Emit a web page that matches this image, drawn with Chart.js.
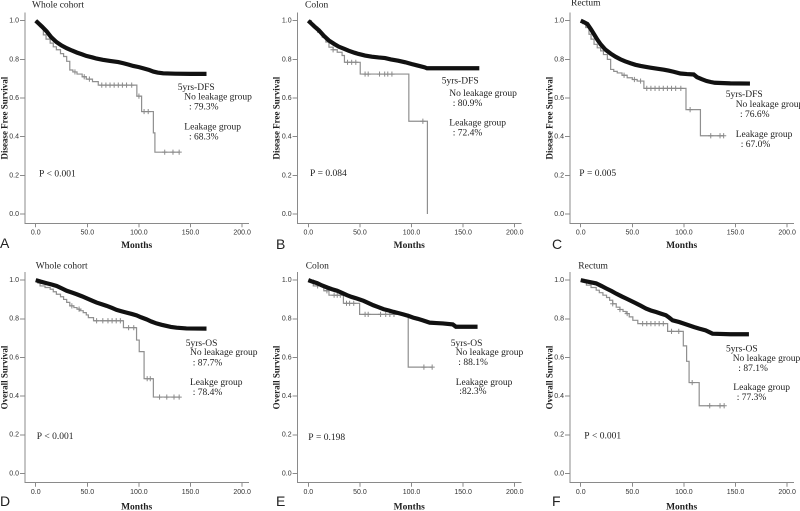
<!DOCTYPE html>
<html>
<head>
<meta charset="utf-8">
<script src="https://cdn.jsdelivr.net/npm/chart.js@4.4.1/dist/chart.umd.min.js"></script>
<style>
  html, body { margin: 0; padding: 0; background: #fff; }
  #wrap { position: relative; width: 800px; height: 511px; overflow: hidden; }
  canvas { position: absolute; }
</style>
</head>
<body>
<div id="wrap"></div>
<script>
// Kaplan-Meier curves: [months, survival]

const xTicks = [0, 50, 100, 150, 200];
const yTicks = [0, 0.2, 0.4, 0.6, 0.8, 1.0];

// A - DFS, whole cohort
const dfsWholeNo = [[0,1],[3,0.985],[6,0.97],[10.6,0.945],[15,0.915],[20,0.89],[25,0.872],[30,0.858],[35,0.846],[40,0.835],[45,0.826],[49,0.818],[55,0.81],[59,0.804],[65,0.798],[72,0.792],[80,0.786],[85,0.78],[90,0.773],[94.5,0.766],[100,0.76],[104,0.754],[110,0.745],[114,0.737],[118,0.732],[123.5,0.728],[135,0.726],[150,0.725],[165.5,0.725]];
const dfsWholeLeak = [[0,1],[2,0.985],[4,0.97],[7.4,0.927],[10,0.905],[14,0.884],[17,0.865],[20,0.85],[24,0.83],[27,0.815],[30,0.79],[33,0.745],[36,0.735],[40,0.724],[45,0.71],[49,0.698],[55,0.685],[60.6,0.667],[98,0.61],[102.6,0.53],[114,0.42],[115.5,0.32],[139,0.32]];
const dfsWholeCens = [[38,0.735],[47,0.71],[52,0.698],[64,0.667],[68,0.667],[72,0.667],[76,0.667],[80,0.667],[84,0.667],[88,0.667],[93,0.667],[100,0.61],[105,0.53],[109,0.53],[125,0.32],[133,0.32],[139,0.32]];

// B - DFS, colon
const dfsColonNo = [[0,1],[3,0.985],[6,0.97],[10.3,0.95],[15,0.922],[19.9,0.898],[25,0.88],[29.5,0.866],[35,0.854],[39,0.845],[45,0.834],[48.7,0.828],[55,0.82],[61.5,0.814],[68,0.81],[74.4,0.807],[80,0.8],[87,0.793],[94,0.785],[100,0.776],[106,0.768],[112.8,0.759],[115,0.754],[140,0.754],[165.7,0.754]];
const dfsColonLeak = [[0,1],[3,0.983],[5.4,0.967],[9,0.94],[13.5,0.915],[17,0.89],[20,0.863],[24,0.85],[28,0.837],[32.7,0.82],[35,0.785],[50.3,0.724],[97.4,0.48],[115.4,0.0]];
const dfsColonCens = [[24,0.85],[38,0.785],[42,0.785],[46,0.785],[55,0.724],[58,0.724],[69,0.724],[74,0.724],[77,0.724],[81,0.724],[111,0.48]];

// C - DFS, rectum
const dfsRectumNo = [[0,1],[3,0.993],[6.4,0.983],[10,0.955],[12.9,0.93],[16,0.903],[19.3,0.878],[24,0.85],[29,0.83],[34,0.813],[38.6,0.8],[43,0.79],[48.3,0.78],[53,0.772],[58,0.766],[62,0.762],[67.6,0.757],[74,0.752],[80.5,0.747],[85,0.742],[90,0.736],[96.6,0.727],[103,0.724],[109.5,0.722],[112.7,0.708],[117,0.698],[122,0.688],[126,0.683],[130,0.679],[145,0.676],[164,0.675]];
const dfsRectumLeak = [[0,1],[2,0.985],[4.8,0.965],[8,0.93],[10,0.905],[12.9,0.878],[16,0.86],[19.3,0.844],[22,0.825],[25.8,0.8],[29,0.748],[32,0.738],[35.4,0.73],[40,0.718],[45,0.705],[50,0.696],[54.7,0.688],[61.2,0.65],[102,0.54],[116,0.405],[138.5,0.405]];
const dfsRectumCens = [[42,0.718],[52,0.696],[58,0.688],[64,0.65],[68,0.65],[72,0.65],[76,0.65],[80,0.65],[84,0.65],[88,0.65],[92,0.65],[97,0.65],[106,0.54],[126,0.405],[135,0.405],[138.5,0.405]];

// D - OS, whole cohort
const osWholeNo = [[0,1],[5,0.992],[10.6,0.984],[15,0.978],[20.3,0.97],[25,0.958],[30,0.945],[35,0.936],[39.7,0.927],[45,0.916],[49.4,0.906],[55,0.893],[59,0.884],[64,0.875],[68.7,0.867],[74,0.856],[78.4,0.846],[83,0.839],[88,0.832],[93,0.825],[97.7,0.818],[102,0.808],[107.4,0.797],[112,0.786],[117,0.776],[122,0.769],[126.8,0.763],[131,0.758],[136.5,0.754],[146,0.75],[165.5,0.749]];
const osWholeLeak = [[0,1],[2,0.985],[4.2,0.97],[9,0.962],[14,0.953],[17,0.94],[20,0.927],[24,0.914],[27,0.9],[30,0.885],[33,0.867],[37,0.858],[40,0.85],[43,0.842],[46,0.832],[49,0.82],[51,0.806],[56,0.79],[85,0.754],[97.7,0.69],[100.3,0.63],[105,0.49],[114,0.395],[139,0.395]];
const osWholeCens = [[35,0.867],[42,0.85],[59,0.79],[65,0.79],[70,0.79],[74,0.79],[78,0.79],[82,0.79],[90,0.754],[95,0.754],[108,0.49],[111,0.49],[120,0.395],[127,0.395],[134,0.395],[139,0.395]];

// E - OS, colon
const osColonNo = [[0,1],[4,0.992],[8.7,0.984],[13,0.973],[18.3,0.962],[23,0.953],[27.9,0.945],[33,0.933],[37.5,0.922],[42,0.913],[47,0.905],[53.5,0.893],[58,0.882],[63,0.87],[68,0.86],[72.8,0.85],[78,0.843],[82.4,0.836],[87,0.83],[92,0.823],[97,0.815],[101.6,0.806],[106,0.8],[111,0.792],[117.6,0.78],[124,0.778],[130.4,0.776],[140,0.771],[143,0.759],[164,0.759]];
const osColonLeak = [[0,1],[4.8,0.97],[15,0.945],[20,0.922],[34,0.88],[49.7,0.823],[96.8,0.55],[120,0.55]];
const osColonCens = [[9,0.97],[18,0.945],[25,0.922],[28,0.922],[31,0.922],[37,0.88],[40,0.88],[44,0.88],[55,0.823],[58,0.823],[70,0.823],[75,0.823],[79,0.823],[83,0.823],[112,0.55],[120,0.55]];

// F - OS, rectum
const osRectumNo = [[0,1],[4,0.995],[8.7,0.99],[15,0.983],[20,0.97],[24.7,0.957],[30,0.943],[34.4,0.93],[40,0.915],[44,0.905],[49,0.892],[53.7,0.88],[58,0.868],[63.3,0.853],[68,0.843],[73,0.835],[78,0.826],[82.6,0.818],[86,0.805],[89,0.792],[95.5,0.783],[100,0.775],[105,0.766],[110,0.757],[114.8,0.749],[121,0.74],[125,0.73],[127.7,0.723],[145,0.72],[163,0.72]];
const osRectumLeak = [[0,1],[2,0.99],[5.5,0.974],[10,0.962],[15,0.948],[18,0.935],[21.5,0.922],[25,0.91],[28,0.896],[31,0.878],[34.4,0.86],[38,0.848],[41,0.838],[44,0.827],[47,0.81],[50.5,0.792],[55.3,0.775],[84.2,0.735],[99.4,0.66],[102.6,0.58],[105,0.47],[114.8,0.35],[139,0.35]];
const osRectumCens = [[31,0.878],[38,0.848],[45,0.827],[60,0.775],[64,0.775],[68,0.775],[72,0.775],[76,0.775],[80,0.775],[88,0.735],[95,0.735],[108,0.47],[125,0.35],[135,0.35],[139,0.35]];

const SERIF = '"Liberation Serif", "DejaVu Serif", serif';
const SANS = '"Liberation Sans", Arial, sans-serif';

// note positions are page pixels: [text, x, y]
const panels = [
  { letter: 'A', left: 0, top: 0, w: 272, h: 255, yAxisW: 25, padTop: 13, padRight: 23.7, xAxisH: 31.7, titlePadB: 4,
    yTitle: 'Disease Free Survival', no: dfsWholeNo, leak: dfsWholeLeak, cens: dfsWholeCens,
    heading: ['Whole cohort', 32, 5], letterPos: [0, 244], pText: ['P < 0.001', 39, 174],
    notes: [['5yrs-DFS', 177.7, 87.5], ['No leakage group', 184.3, 97], [': 79.3%', 189, 107], ['Leakage group', 184.3, 127], [': 68.3%', 189, 137]] },
  { letter: 'B', left: 272, top: 0, w: 273, h: 255, yAxisW: 25.6, padTop: 13, padRight: 24.1, xAxisH: 31.7, titlePadB: 4,
    yTitle: 'Disease Free Survival', no: dfsColonNo, leak: dfsColonLeak, cens: dfsColonCens,
    heading: ['Colon', 305, 5], letterPos: [276, 245], pText: ['P = 0.084', 310, 173.3],
    notes: [['5yrs-DFS', 441.7, 81], ['No leakage group', 449.3, 93.3], [': 80.9%', 452.7, 103.3], ['Leakage group', 449.3, 123], [': 72.4%', 452.7, 133]] },
  { letter: 'C', left: 545, top: 0, w: 255, h: 255, yAxisW: 25, padTop: 13, padRight: 6.7, xAxisH: 31.7, titlePadB: 4,
    yTitle: 'Disease Free Survival', no: dfsRectumNo, leak: dfsRectumLeak, cens: dfsRectumCens,
    heading: ['Rectum', 571, 3], letterPos: [552, 245], pText: ['P = 0.005', 579.3, 173.3],
    notes: [['5yrs-DFS', 725.7, 94.3], ['No leakage group', 735.7, 104.5], [': 76.6%', 740, 114.5], ['Leakage group', 735.7, 134.5], [': 67.0%', 740.7, 144.5]] },
  { letter: 'D', left: 0, top: 255, w: 272, h: 256, yAxisW: 25, padTop: 17.4, padRight: 23.7, xAxisH: 28.3, titlePadB: -1.5,
    yTitle: 'Overall Survival', no: osWholeNo, leak: osWholeLeak, cens: osWholeCens,
    heading: ['Whole cohort', 35.7, 266], letterPos: [0, 502], pText: ['P < 0.001', 36.7, 436.7],
    notes: [['5yrs-OS', 185.7, 343.3], ['No leakage group', 190, 352.7], [': 87.7%', 192.7, 363], ['Leakge group', 190, 382.7], [': 78.4%', 192.7, 392.7]] },
  { letter: 'E', left: 272, top: 255, w: 273, h: 256, yAxisW: 25.6, padTop: 17.4, padRight: 24.1, xAxisH: 28.3, titlePadB: -1.5,
    yTitle: 'Overall Survival', no: osColonNo, leak: osColonLeak, cens: osColonCens,
    heading: ['Colon', 305.7, 266], letterPos: [276, 502], pText: ['P = 0.198', 308.3, 437.7],
    notes: [['5yrs-OS', 450.7, 343.3], ['No leakage group', 455.7, 352.3], [': 88.1%', 458.3, 362.3], ['Leakage group', 455.7, 382.3], [':82.3%', 459.3, 391.7]] },
  { letter: 'F', left: 545, top: 255, w: 255, h: 256, yAxisW: 25, padTop: 17.4, padRight: 6.7, xAxisH: 28.3, titlePadB: -1.5,
    yTitle: 'Overall Survival', no: osRectumNo, leak: osRectumLeak, cens: osRectumCens,
    heading: ['Rectum', 578.3, 266], letterPos: [552, 502], pText: ['P < 0.001', 584.3, 436],
    notes: [['5yrs-OS', 726, 349], ['No leakage group', 732.7, 358.5], [': 87.1%', 738.3, 368.5], ['Leakage group', 733.3, 387.5], [': 77.3%', 736.7, 397.5]] }
];

function toPoints(arr) {
  return arr.map(p => ({ x: p[0], y: p[1] }));
}

// draws the panel heading, annotations and panel letter
const notesPlugin = {
  id: 'notes',
  afterDraw(chart) {
    const p = chart.options.plugins.notes.panel;
    const ctx = chart.ctx;
    ctx.save();
    ctx.textBaseline = 'middle';
    ctx.textAlign = 'left';
    ctx.fillStyle = '#222';
    ctx.font = '9.5px ' + SERIF;
    ctx.fillText(p.heading[0], p.heading[1] - p.left, p.heading[2] - p.top);
    p.notes.forEach(n => ctx.fillText(n[0], n[1] - p.left, n[2] - p.top));
    ctx.fillText(p.pText[0], p.pText[1] - p.left, p.pText[2] - p.top);
    ctx.font = '14px ' + SANS;
    ctx.fillText(p.letter, p.letterPos[0] - p.left, p.letterPos[1] - p.top);
    ctx.restore();
  }
};

function makePanel(p) {
  const canvas = document.createElement('canvas');
  canvas.width = p.w;
  canvas.height = p.h;
  canvas.style.left = p.left + 'px';
  canvas.style.top = p.top + 'px';
  canvas.style.width = p.w + 'px';
  canvas.style.height = p.h + 'px';
  document.getElementById('wrap').appendChild(canvas);

  new Chart(canvas.getContext('2d'), {
    type: 'line',
    data: {
      datasets: [
        {
          label: 'No leakage group',
          data: toPoints(p.no),
          borderColor: '#111',
          borderWidth: 4.2,
          pointRadius: 0,
          tension: 0,
          fill: false
        },
        {
          label: 'Leakage censored',
          data: toPoints(p.cens),
          showLine: false,
          pointStyle: 'cross',
          pointRadius: 2.6,
          pointBorderWidth: 1,
          pointBorderColor: '#8a8a8a',
          borderColor: '#8a8a8a'
        },
        {
          label: 'Leakage group',
          data: toPoints(p.leak),
          borderColor: '#8f8f8f',
          borderWidth: 1.2,
          stepped: true,
          pointRadius: 0,
          fill: false
        }
      ]
    },
    options: {
      responsive: false,
      animation: false,
      devicePixelRatio: 2,
      layout: { padding: { left: 0, top: p.padTop, right: p.padRight, bottom: 0 } },
      plugins: {
        legend: { display: false },
        tooltip: { enabled: false },
        notes: { panel: p }
      },
      scales: {
        x: {
          type: 'linear',
          min: -10.4,
          max: 206,
          afterBuildTicks: s => { s.ticks = xTicks.map(v => ({ value: v })); },
          afterFit: s => { s.height = p.xAxisH; },
          grid: { drawOnChartArea: false, drawTicks: true, tickLength: 4, color: '#8a8a8a' },
          border: { display: true, color: '#8a8a8a', width: 1 },
          ticks: {
            padding: 1,
            maxRotation: 0,
            autoSkip: false,
            color: '#333',
            font: { family: SANS, size: 7 },
            callback: v => v.toFixed(1)
          },
          title: {
            display: true,
            text: 'Months',
            color: '#222',
            padding: { top: 0, bottom: p.titlePadB },
            font: { family: SERIF, size: 9.5, weight: 'bold' }
          }
        },
        y: {
          type: 'linear',
          min: -0.048,
          max: 1.04,
          afterBuildTicks: s => { s.ticks = yTicks.map(v => ({ value: v })); },
          afterFit: s => { s.width = p.yAxisW; },
          grid: { drawOnChartArea: false, drawTicks: true, tickLength: 5, color: '#8a8a8a' },
          border: { display: true, color: '#8a8a8a', width: 1 },
          ticks: {
            padding: 1,
            autoSkip: false,
            color: '#333',
            font: { family: SANS, size: 7 },
            callback: v => v.toFixed(1)
          },
          title: {
            display: true,
            text: p.yTitle,
            color: '#222',
            padding: { top: 0, bottom: 0 },
            font: { family: SERIF, size: 9, weight: 'bold' }
          }
        }
      }
    },
    plugins: [notesPlugin]
  });
}

panels.forEach(makePanel);
</script>
</body>
</html>
